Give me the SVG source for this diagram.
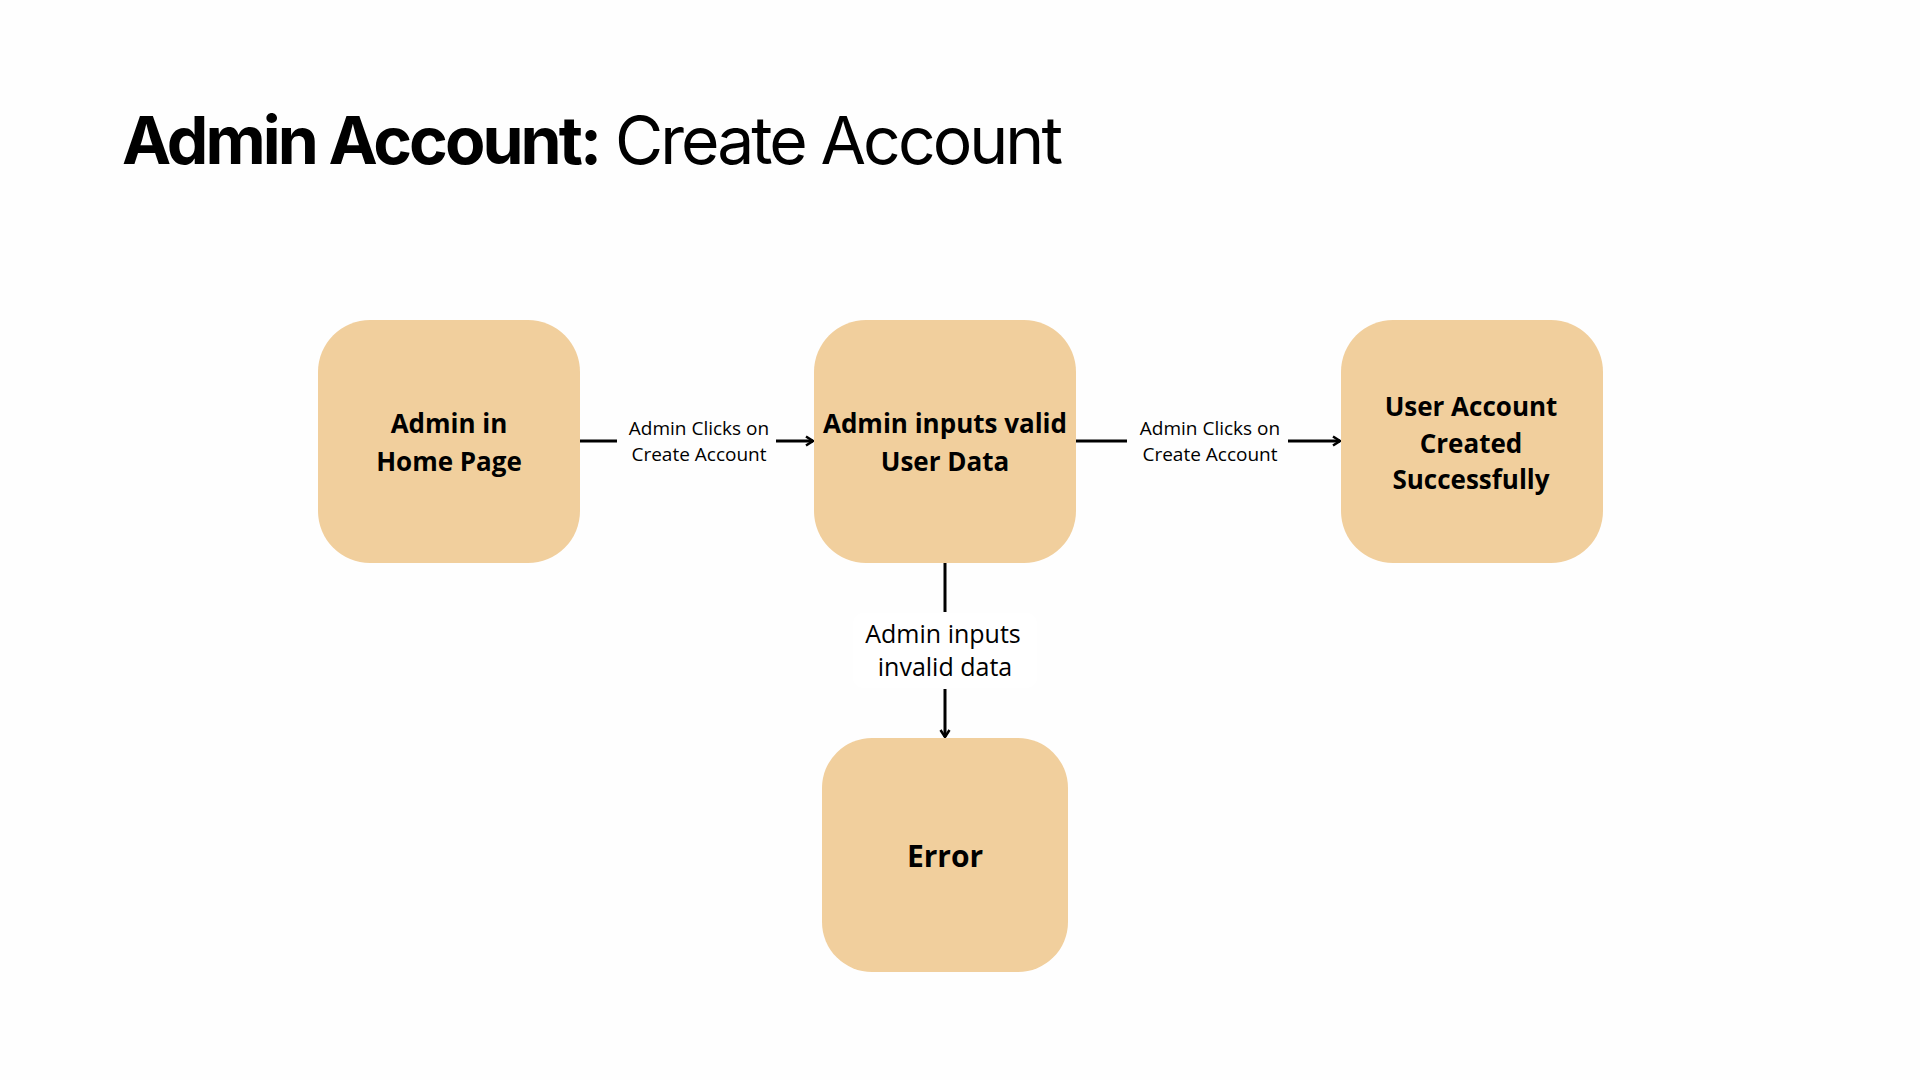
<svg xmlns="http://www.w3.org/2000/svg" width="1920" height="1080" viewBox="0 0 1920 1080">
  <style>
    .node { fill: #F1CF9D; }
    .nlabel { font-family: "Open Sans", "Noto Sans", sans-serif; font-weight: 700; font-size: 26px; fill: #000; text-anchor: middle; }
    .nlabel-lg { font-size: 30px; }
    .elabel { font-family: "Open Sans", "Noto Sans", sans-serif; font-size: 19px; fill: #000; text-anchor: middle; }
    .elabel-lg { font-family: "Open Sans", "Noto Sans", sans-serif; font-size: 25px; fill: #000; text-anchor: middle; }
    .edge { stroke: #000; stroke-width: 3; fill: none; }
    .title { font-family: Inter, "Liberation Sans", sans-serif; font-size: 66px; fill: #000; }
  </style>
  <defs>
    <marker id="arrow" viewBox="0 0 12 12" refX="10" refY="6" markerWidth="12" markerHeight="12" markerUnits="userSpaceOnUse" orient="auto">
      <path d="M3,1.5 L10,6 L3,10.5" stroke="#000" stroke-width="2.5" fill="none" stroke-linejoin="miter"/>
    </marker>
  </defs>
  <rect width="1920" height="1080" fill="#FEFEFE"/>

  <g id="title">
    <text class="title" x="122" y="164" font-weight="700" textLength="480" lengthAdjust="spacing">Admin Account:</text>
    <text class="title" x="615" y="164" font-weight="400" textLength="448" lengthAdjust="spacing">Create Account</text>
  </g>

  <g id="connectors">
    <line class="edge" x1="580" y1="441" x2="617" y2="441"/>
    <line class="edge" x1="776" y1="441" x2="813" y2="441" marker-end="url(#arrow)"/>
    <text class="elabel" x="699" y="435">Admin Clicks on</text>
    <text class="elabel" x="699" y="461">Create Account</text>

    <line class="edge" x1="1076" y1="441" x2="1127" y2="441"/>
    <line class="edge" x1="1288" y1="441" x2="1340" y2="441" marker-end="url(#arrow)"/>
    <text class="elabel" x="1210" y="435">Admin Clicks on</text>
    <text class="elabel" x="1210" y="461">Create Account</text>

    <line class="edge" x1="945" y1="563" x2="945" y2="612"/>
    <rect x="853" y="613" width="184" height="75" rx="10" fill="#FFFFFF"/>
    <line class="edge" x1="945" y1="689" x2="945" y2="737" marker-end="url(#arrow)"/>
    <text class="elabel-lg" x="943" y="643">Admin inputs</text>
    <text class="elabel-lg" x="945" y="676">invalid data</text>
  </g>

  <g id="node-home">
    <rect class="node" x="318" y="320" width="262" height="243" rx="52"/>
    <text class="nlabel" x="449" y="433">Admin in</text>
    <text class="nlabel" x="449" y="471">Home Page</text>
  </g>

  <g id="node-inputs">
    <rect class="node" x="814" y="320" width="262" height="243" rx="52"/>
    <text class="nlabel" x="945" y="433">Admin inputs valid</text>
    <text class="nlabel" x="945" y="471">User Data</text>
  </g>

  <g id="node-success">
    <rect class="node" x="1341" y="320" width="262" height="243" rx="52"/>
    <text class="nlabel" x="1471" y="416">User Account</text>
    <text class="nlabel" x="1471" y="453">Created</text>
    <text class="nlabel" x="1471" y="489">Successfully</text>
  </g>

  <g id="node-error">
    <rect class="node" x="822" y="738" width="246" height="234" rx="50"/>
    <text class="nlabel nlabel-lg" x="945" y="867">Error</text>
  </g>
</svg>
